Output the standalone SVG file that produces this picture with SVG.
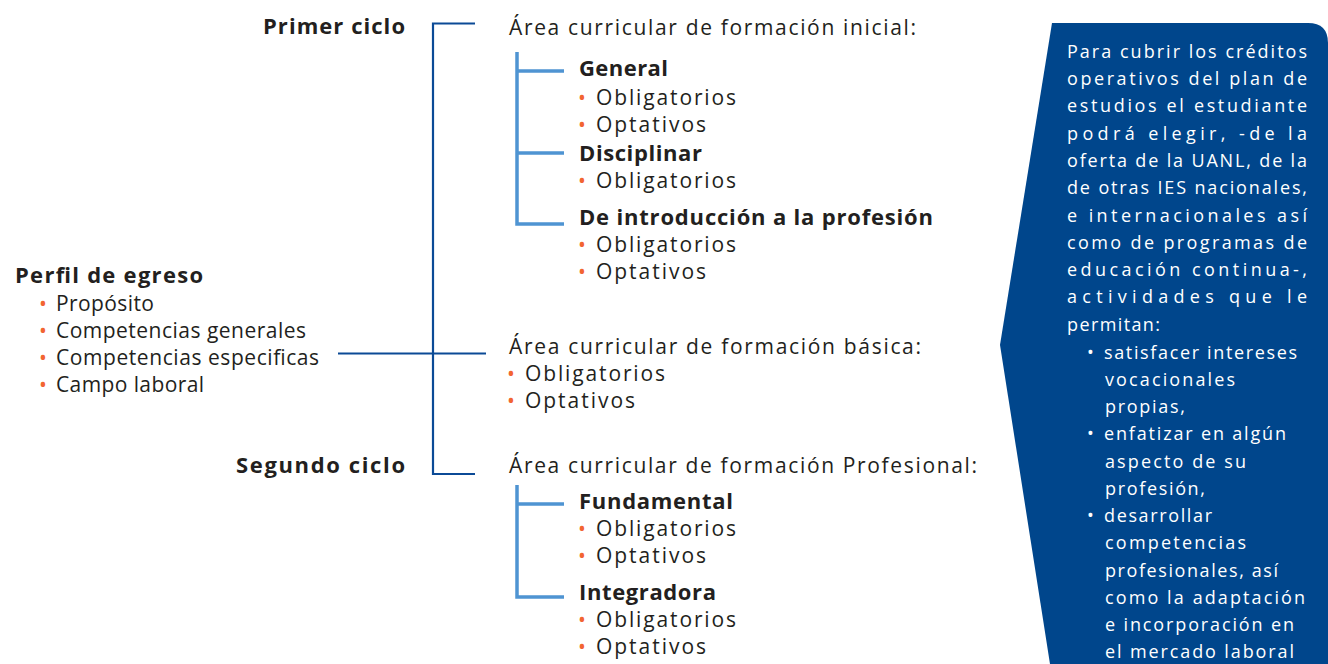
<svg xmlns="http://www.w3.org/2000/svg" width="1328" height="664" viewBox="0 0 1328 664">
<style>
text{font-family:"Open Sans","Liberation Sans",sans-serif;fill:#231f20;font-size:21px}
.b{font-weight:700;font-size:22px}
.o{fill:#f26531}
.w{fill:#ffffff;font-size:18px}
.dk{stroke:#0b4a96;stroke-width:2.2;fill:none}
.lt{stroke:#4f94d2;stroke-width:3.5;fill:none}
</style>
<rect width="1328" height="664" fill="#ffffff"/>
<g id="connectors">
<path class="dk" d="M475,23.5 H433 V474 H475"/>
<path class="dk" d="M338,353.5 H486"/>
<path class="lt" d="M517,52 V224 H564 M517,71 H564 M517,153 H564"/>
<path class="lt" d="M517,485 V597 H564 M517,504 H564"/>
</g>
<g id="perfil">
<text x="15" y="283" class="b" textLength="188" lengthAdjust="spacing">Perfil de egreso</text>
<text x="39" y="311" class="o">•</text><text x="56" y="311" textLength="98" lengthAdjust="spacing">Propósito</text>
<text x="39" y="338" class="o">•</text><text x="56" y="338" textLength="250" lengthAdjust="spacing">Competencias generales</text>
<text x="39" y="365" class="o">•</text><text x="56" y="365" textLength="263" lengthAdjust="spacing">Competencias especificas</text>
<text x="39" y="392" class="o">•</text><text x="56" y="392" textLength="148" lengthAdjust="spacing">Campo laboral</text>
</g>
<g id="primer-ciclo">
<text x="263" y="34" class="b" textLength="142" lengthAdjust="spacing">Primer ciclo</text>
</g>
<g id="segundo-ciclo">
<text x="236" y="473" class="b" textLength="169" lengthAdjust="spacing">Segundo ciclo</text>
</g>
<g id="area-inicial">
<text x="509" y="35" textLength="407" lengthAdjust="spacing">Área curricular de formación inicial:</text>
<text x="579" y="76" class="b" textLength="89" lengthAdjust="spacing">General</text>
<text x="578" y="105" class="o">•</text><text x="596" y="105" textLength="140" lengthAdjust="spacing">Obligatorios</text>
<text x="578" y="132" class="o">•</text><text x="596" y="132" textLength="110" lengthAdjust="spacing">Optativos</text>
<text x="579" y="160.5" class="b" textLength="123" lengthAdjust="spacing">Disciplinar</text>
<text x="578" y="188" class="o">•</text><text x="596" y="188" textLength="140" lengthAdjust="spacing">Obligatorios</text>
<text x="579" y="225" class="b" textLength="354" lengthAdjust="spacing">De introducción a la profesión</text>
<text x="578" y="252" class="o">•</text><text x="596" y="252" textLength="140" lengthAdjust="spacing">Obligatorios</text>
<text x="578" y="279" class="o">•</text><text x="596" y="279" textLength="110" lengthAdjust="spacing">Optativos</text>
</g>
<g id="area-basica">
<text x="509" y="354" textLength="412" lengthAdjust="spacing">Área curricular de formación básica:</text>
<text x="507" y="381" class="o">•</text><text x="525" y="381" textLength="140" lengthAdjust="spacing">Obligatorios</text>
<text x="507" y="408" class="o">•</text><text x="525" y="408" textLength="110" lengthAdjust="spacing">Optativos</text>
</g>
<g id="area-profesional">
<text x="509" y="473" textLength="468" lengthAdjust="spacing">Área curricular de formación Profesional:</text>
<text x="579" y="509" class="b" textLength="154" lengthAdjust="spacing">Fundamental</text>
<text x="578" y="536" class="o">•</text><text x="596" y="536" textLength="140" lengthAdjust="spacing">Obligatorios</text>
<text x="578" y="563" class="o">•</text><text x="596" y="563" textLength="110" lengthAdjust="spacing">Optativos</text>
<text x="579" y="600" class="b" textLength="137" lengthAdjust="spacing">Integradora</text>
<text x="578" y="627" class="o">•</text><text x="596" y="627" textLength="140" lengthAdjust="spacing">Obligatorios</text>
<text x="578" y="654" class="o">•</text><text x="596" y="654" textLength="110" lengthAdjust="spacing">Optativos</text>
</g>
<g id="panel">
<path d="M1052,23 H1308 Q1328,23 1328,43 V664 H1050 L1000,345 Z" fill="#00468c"/>
<text class="w" x="1067" y="57.7" textLength="240" lengthAdjust="spacing">Para cubrir los créditos</text>
<text class="w" x="1067" y="85" textLength="240" lengthAdjust="spacing">operativos del plan de</text>
<text class="w" x="1067" y="112.3" textLength="240" lengthAdjust="spacing">estudios el estudiante</text>
<text class="w" x="1067" y="139.6" textLength="240" lengthAdjust="spacing">podrá elegir, -de la</text>
<text class="w" x="1067" y="166.9" textLength="240" lengthAdjust="spacing">oferta de la UANL, de la</text>
<text class="w" x="1067" y="194.2" textLength="240" lengthAdjust="spacing">de otras IES nacionales,</text>
<text class="w" x="1067" y="221.5" textLength="240" lengthAdjust="spacing">e internacionales así</text>
<text class="w" x="1067" y="248.8" textLength="240" lengthAdjust="spacing">como de programas de</text>
<text class="w" x="1067" y="276.1" textLength="240" lengthAdjust="spacing">educación continua-,</text>
<text class="w" x="1067" y="303.4" textLength="240" lengthAdjust="spacing">actividades que le</text>
<text class="w" x="1067" y="330.7" textLength="93" lengthAdjust="spacing">permitan:</text>
<text class="w" x="1087" y="359">•</text>
<text class="w" x="1104" y="359" textLength="193" lengthAdjust="spacing">satisfacer intereses</text>
<text class="w" x="1105" y="386" textLength="130" lengthAdjust="spacing">vocacionales</text>
<text class="w" x="1105" y="413" textLength="80" lengthAdjust="spacing">propias,</text>
<text class="w" x="1087" y="440">•</text>
<text class="w" x="1104" y="440" textLength="182" lengthAdjust="spacing">enfatizar en algún</text>
<text class="w" x="1105" y="467.5" textLength="141" lengthAdjust="spacing">aspecto de su</text>
<text class="w" x="1105" y="495" textLength="100" lengthAdjust="spacing">profesión,</text>
<text class="w" x="1087" y="522">•</text>
<text class="w" x="1104" y="522" textLength="108" lengthAdjust="spacing">desarrollar</text>
<text class="w" x="1105" y="549" textLength="141" lengthAdjust="spacing">competencias</text>
<text class="w" x="1105" y="576.5" textLength="173" lengthAdjust="spacing">profesionales, así</text>
<text class="w" x="1105" y="603.5" textLength="200" lengthAdjust="spacing">como la adaptación</text>
<text class="w" x="1105" y="631" textLength="189" lengthAdjust="spacing">e incorporación en</text>
<text class="w" x="1105" y="658" textLength="189" lengthAdjust="spacing">el mercado laboral</text>
</g>
</svg>
